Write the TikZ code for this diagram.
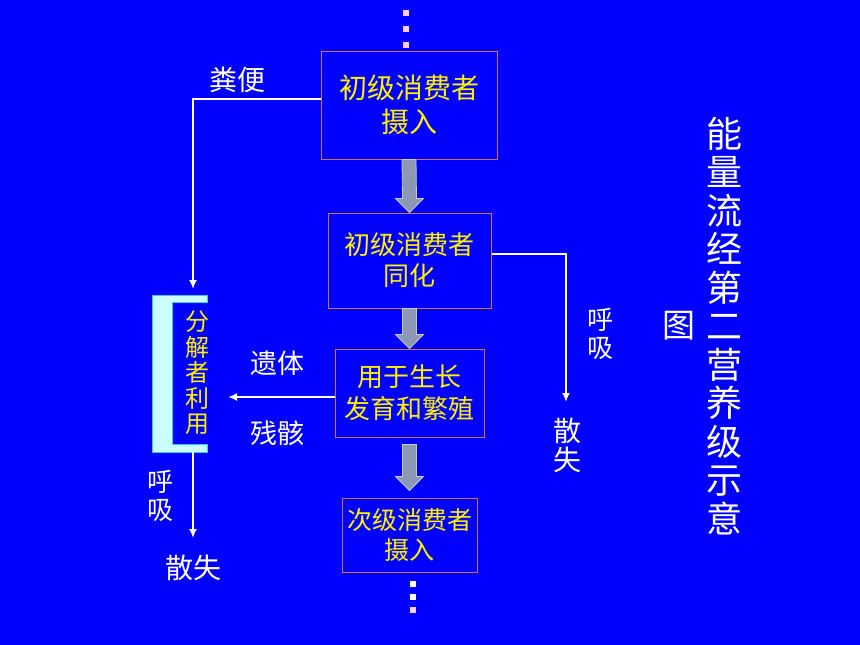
\documentclass[tikz,border=0pt]{standalone}
\usepackage{fontspec}
\setmainfont{Noto Sans CJK SC}
\usetikzlibrary{calc,arrows.meta}
\definecolor{bg}{RGB}{0,0,255}
\definecolor{boxline}{RGB}{200,120,70}
\definecolor{flowgray}{RGB}{140,152,180}
\definecolor{flowedge}{RGB}{195,205,230}
\definecolor{dotpink}{RGB}{255,204,255}
\definecolor{decfill}{RGB}{204,255,255}
\definecolor{decline}{RGB}{51,204,255}
\tikzset{
  stage/.style={draw=boxline,line width=1pt,text=yellow,align=center,inner sep=0pt},
  note/.style={text=white,align=center,inner sep=0pt},
  loss/.style={draw=white,line width=2.4pt,-{Latex[length=9pt,width=8pt]}},
  flow/.style={draw=flowedge,fill=flowgray,line width=0.8pt,line join=miter},
  dotsq/.style={minimum size=6pt,inner sep=0pt}
}
\begin{document}
\begin{tikzpicture}[x=1pt,y=-1pt]
	\fill[bg] (0,0) rectangle (860,645);
	\useasboundingbox (0,0) rectangle (860,645);
	\node[stage,minimum width=176pt,minimum height=108pt,font=\fontsize{28}{34}\selectfont] (b1) at (409,105) {初级消费者\\摄入};
	\node[stage,minimum width=163pt,minimum height=95pt,font=\fontsize{26}{31}\selectfont] (b2) at (409.5,260.5) {初级消费者\\同化};
	\node[stage,minimum width=149pt,minimum height=88pt,font=\fontsize{26}{32}\selectfont] (b3) at (409.5,393) {用于生长\\发育和繁殖};
	\node[stage,minimum width=135pt,minimum height=74pt,font=\fontsize{25}{30}\selectfont] (b4) at (409.5,535) {次级消费者\\摄入};
	\foreach \y in {13,29,45}
		\node[dotsq,fill=dotpink] (top\y) at (406,\y) {};
	\foreach \y/\c in {584/white,597/white,610/dotpink}
		\node[dotsq,fill=\c] (bot\y) at (413,\y) {};
	\foreach \a/\b/\g in {b1/b2/0,b2/b3/0,b3/b4/7}
		\draw[flow] ($(\a.south)+(-7,\g)$) -- ($(\b.north)+(-7,-14-\g)$) -- ($(\b.north)+(-14,-14-\g)$) -- ($(\b.north)+(0,-\g)$) -- ($(\b.north)+(14,-14-\g)$) -- ($(\b.north)+(7,-14-\g)$) -- ($(\a.south)+(7,\g)$) -- cycle;
	\filldraw[fill=decfill,draw=decline,line width=1pt] (207,295) -- (152,295) -- (152,452) -- (207,452) -- (207,444) -- (172,444) -- (172,302) -- (207,302) -- cycle;
	\node[text=yellow,align=center,inner sep=0pt,font=\fontsize{24}{25.5}\selectfont] (fen) at (197,373) {分\\解\\者\\利\\用};
	\coordinate (dtop) at (193,295);
	\coordinate (dbot) at (193,452);
	\coordinate (dout) at (193,538);
	\coordinate (remain) at (228,397);
	\coordinate (rend) at (566,402);
	\node[note,font=\fontsize{28}{30}\selectfont] (fb) at (237,80) {粪便};
	\node[note,font=\fontsize{27}{30}\selectfont] (yt) at (277,363) {遗体};
	\node[note,font=\fontsize{27}{30}\selectfont] (cg) at (277,433) {残骸};
	\node[note,font=\fontsize{26}{28}\selectfont] (hx1) at (160,496) {呼\\吸};
	\node[note,font=\fontsize{28}{30}\selectfont] (ss1) at (193,568) {散失};
	\node[note,font=\fontsize{26}{28}\selectfont] (hx2) at (600,334) {呼\\吸};
	\node[note,font=\fontsize{28}{29}\selectfont] (ss2) at (567,445) {散\\失};
	\node[note,font=\fontsize{36}{38.5}\selectfont] (title) at (724,326) {能\\量\\流\\经\\第\\二\\营\\养\\级\\示\\意};
	\node[note,font=\fontsize{33}{35}\selectfont] (tu) at (679,326) {图};
	\draw[loss] ([yshift=6pt]b1.west) -| ([yshift=6pt]dtop);
	\draw[loss] ([yshift=6.5pt]b2.east) -| (rend);
	\draw[loss] ([yshift=-4pt]b3.west) -- (remain);
	\draw[loss] (dbot) -- (dout);
\end{tikzpicture}
\end{document}
